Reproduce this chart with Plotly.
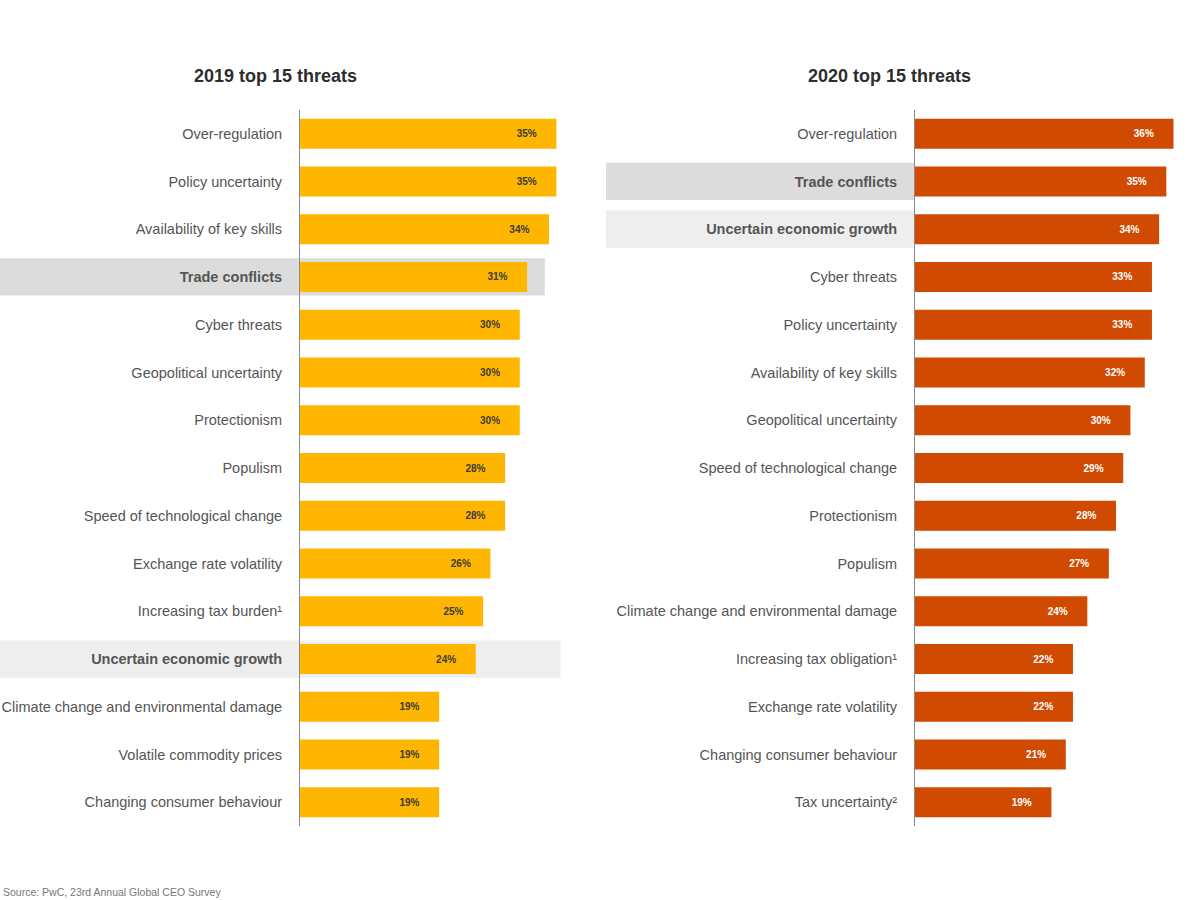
import plotly.graph_objects as go

#2019 survey data#
threats_2019 = ['Over-regulation', 'Policy uncertainty', 'Availability of key skills', 'Trade conflicts',
                'Cyber threats', 'Geopolitical uncertainty', 'Protectionism', 'Populism',
                'Speed of technological change', 'Exchange rate volatility', 'Increasing tax burden¹',
                'Uncertain economic growth', 'Climate change and environmental damage',
                'Volatile commodity prices', 'Changing consumer behaviour']
values_2019 = [35, 35, 34, 31, 30, 30, 30, 28, 28, 26, 25, 24, 19, 19, 19]

#2020 survey data#
threats_2020 = ['Over-regulation', 'Trade conflicts', 'Uncertain economic growth', 'Cyber threats',
                'Policy uncertainty', 'Availability of key skills', 'Geopolitical uncertainty',
                'Speed of technological change', 'Protectionism', 'Populism',
                'Climate change and environmental damage', 'Increasing tax obligation¹',
                'Exchange rate volatility', 'Changing consumer behaviour', 'Tax uncertainty²']
values_2020 = [36, 35, 34, 33, 33, 32, 30, 29, 28, 27, 24, 22, 22, 21, 19]

#rows that get a grey band and bold label, with band shade#
highlights = {'Trade conflicts': '#dcdcdc', 'Uncertain economic growth': '#eeeeee'}

titles = ['2019 top 15 threats', '2020 top 15 threats']
source = 'Source: PwC, 23rd Annual Global CEO Survey'


def tick_text(names):
    return ['<b>%s</b>' % n if n in highlights else n for n in names]


pad = '\u00a0' * 6  # push the % labels away from the bar end

fig = go.Figure()

fig.add_trace(go.Bar(
    x=values_2019, y=list(range(len(threats_2019))), orientation='h',
    marker=dict(color='#FFB600', line=dict(width=0)),
    texttemplate='<b>%{x}%</b>' + pad, textposition='inside', insidetextanchor='end',
    textfont=dict(size=10, color='#3a3a3a', family='Liberation Sans'), textangle=0,
    xaxis='x', yaxis='y', showlegend=False))

fig.add_trace(go.Bar(
    x=values_2020, y=list(range(len(threats_2020))), orientation='h',
    marker=dict(color='#D04A02', line=dict(width=0)),
    texttemplate='<b>%{x}%</b>' + pad, textposition='inside', insidetextanchor='end',
    textfont=dict(size=10, color='white', family='Liberation Sans'), textangle=0,
    xaxis='x2', yaxis='y2', showlegend=False))

#grey bands behind highlighted rows#
shapes = []
for name, shade in highlights.items():
    i = threats_2019.index(name)
    right = 0.454 if shade == '#dcdcdc' else 0.467
    shapes.append(dict(type='rect', xref='paper', yref='y', x0=0, x1=right, y0=i - 0.39, y1=i + 0.39,
                       fillcolor=shade, line=dict(width=0), layer='below'))
    j = threats_2020.index(name)
    shapes.append(dict(type='rect', xref='paper', yref='y2', x0=0.505, x1=0.7625, y0=j - 0.39, y1=j + 0.39,
                       fillcolor=shade, line=dict(width=0), layer='below'))

y_common = dict(autorange=False, range=[14.5, -0.5], tickmode='array', showgrid=False, zeroline=False,
                showline=True, linecolor='#8a8a8a', linewidth=1, ticks='', ticklabelstandoff=14,
                automargin=False, domain=[0.082, 0.878],
                tickfont=dict(family='Liberation Sans', size=14.5, color='#555555'))

fig.update_layout(
    width=1200, height=900, margin=dict(l=0, r=0, t=0, b=0),
    plot_bgcolor='white', paper_bgcolor='white', bargap=0.37, shapes=shapes,
    xaxis=dict(domain=[0.25, 0.4667], range=[0, 35.5], visible=False),
    xaxis2=dict(domain=[0.7625, 0.9833], range=[0, 36.9], visible=False),
    yaxis=dict(anchor='x', tickvals=list(range(15)), ticktext=tick_text(threats_2019), **y_common),
    yaxis2=dict(anchor='x2', tickvals=list(range(15)), ticktext=tick_text(threats_2020), **y_common),
)

#panel titles#
for t, xc in zip(titles, [275 / 1200, 889 / 1200]):
    fig.add_annotation(text='<b>%s</b>' % t, x=xc, y=1 - 76 / 900, xref='paper', yref='paper',
                       xanchor='center', yanchor='middle', showarrow=False,
                       font=dict(family='Liberation Sans', size=18, color='#2d2d2d'))

fig.add_annotation(text=source, x=0.001, y=1 - 892 / 900, xref='paper', yref='paper',
                   xanchor='left', yanchor='middle', showarrow=False,
                   font=dict(family='Liberation Sans', size=10.5, color='#777777'))

#drop the default page margin so the figure sits at the window corner#
fig.write_html("out.html", config={'displayModeBar': False},
               post_script="document.body.style.margin='0';")
